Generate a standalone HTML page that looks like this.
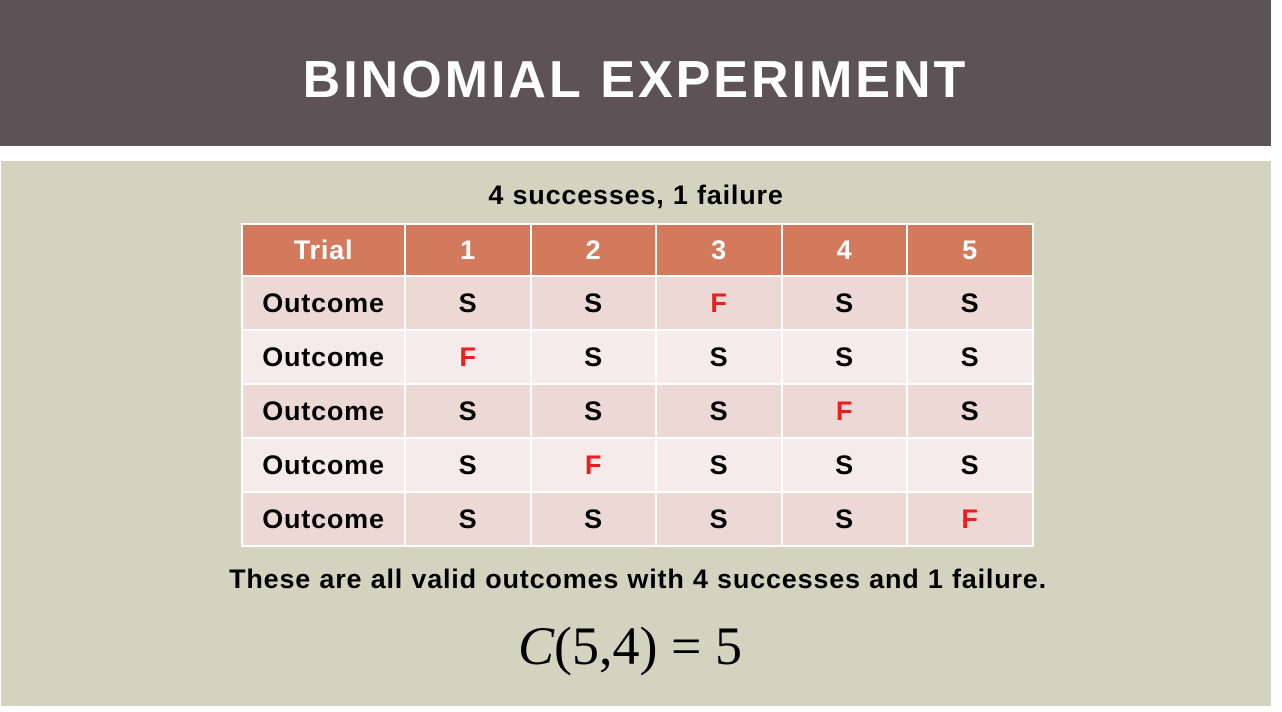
<!DOCTYPE html>
<html><head><meta charset="utf-8"><style>
body{margin:0;width:1282px;height:712px;background:#fff;position:relative;overflow:hidden;font-family:"Liberation Sans",sans-serif}
#hdr{position:absolute;left:0;top:0;width:1271px;height:146px;background:#5d5356}
#hdr div{position:absolute;left:0;width:1271px;top:50px;text-align:center;color:#fff;font-size:52px;font-weight:bold;letter-spacing:3px}
#panel{position:absolute;left:1px;top:161px;width:1270px;height:545px;background:#d3d4c0}
.t{position:absolute;left:0;width:1272px;text-align:center;font-weight:bold;color:#000;letter-spacing:0.8px}
table{position:absolute;left:241px;top:223px;border-collapse:collapse}
td{border:2px solid #fff;text-align:center;font-weight:bold;font-size:27px;padding:0;letter-spacing:0.8px;box-sizing:border-box}
tr.h td{background:#d27a5b;color:#fff;height:52px}
tr.a td,tr.b td{height:54px}
tr.a td{background:#ecd9d6}
tr.b td{background:#f5ebea}
.f{color:#ee1c1c}
</style></head><body>
<div id="hdr"><div>BINOMIAL EXPERIMENT</div></div>
<div id="panel"></div>
<div class="t" style="top:180px;font-size:27px">4 successes, 1 failure</div>
<table>
<tr class="h"><td style="width:163px">Trial</td><td style="width:126px">1</td><td style="width:125px">2</td><td style="width:126px">3</td><td style="width:125px">4</td><td style="width:126px">5</td></tr>
<tr class="a"><td>Outcome</td><td>S</td><td>S</td><td class="f">F</td><td>S</td><td>S</td></tr>
<tr class="b"><td>Outcome</td><td class="f">F</td><td>S</td><td>S</td><td>S</td><td>S</td></tr>
<tr class="a"><td>Outcome</td><td>S</td><td>S</td><td>S</td><td class="f">F</td><td>S</td></tr>
<tr class="b"><td>Outcome</td><td>S</td><td class="f">F</td><td>S</td><td>S</td><td>S</td></tr>
<tr class="a"><td>Outcome</td><td>S</td><td>S</td><td>S</td><td>S</td><td class="f">F</td></tr>
</table>
<div class="t" style="top:564px;font-size:27px;left:2px">These are all valid outcomes with 4 successes and 1 failure.</div>
<div class="t" style="top:615px;font-size:54px;font-weight:normal;font-family:'Liberation Serif',serif;left:-6px;letter-spacing:0"><i>C</i>(5,4) = 5</div>
</body></html>
